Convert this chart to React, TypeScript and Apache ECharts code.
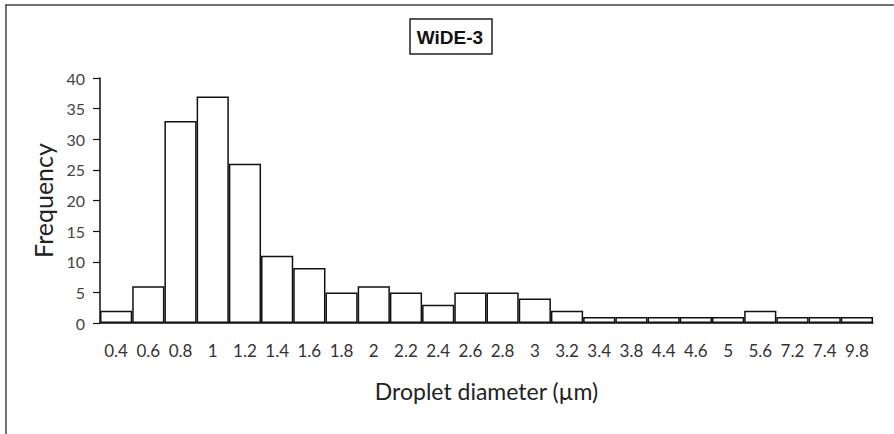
import React, { useEffect, useRef } from "react";
import * as echarts from "echarts";

const categories = ["0.4","0.6","0.8","1","1.2","1.4","1.6","1.8","2","2.2","2.4","2.6","2.8","3","3.2","3.4","3.8","4.4","4.6","5","5.6","7.2","7.4","9.8"];
const frequency = [2, 6, 33, 37, 26, 11, 9, 5, 6, 5, 3, 5, 5, 4, 2, 1, 1, 1, 1, 1, 2, 1, 1, 1];
const titleText = "WiDE-3";
const xName = "Droplet diameter (µm)";
const yName = "Frequency";

const FONT = "Lato, 'Open Sans', sans-serif";

export default function App() {
  const ref = useRef<HTMLDivElement>(null);
  useEffect(() => {
    if (!ref.current) return;
    const chart = echarts.init(ref.current, undefined, { renderer: "svg" });
    chart.setOption({
      animation: false,
      backgroundColor: "#ffffff",
      grid: { left: 100, right: 21, top: 78, bottom: 111 },
      graphic: [
        { type: "line", shape: { x1: 5, y1: 5, x2: 894, y2: 5 }, style: { stroke: "#444", lineWidth: 1.5 } },
        { type: "line", shape: { x1: 6, y1: 5, x2: 6, y2: 434 }, style: { stroke: "#444", lineWidth: 1.5 } },
        {
          type: "rect",
          shape: { x: 410, y: 19, width: 82, height: 35 },
          style: { fill: "#fff", stroke: "#222", lineWidth: 1.5 },
        },
        {
          type: "text",
          x: 450,
          y: 37,
          style: {
            text: titleText,
            font: "bold 19px 'Liberation Sans', Arial, sans-serif",
            fill: "#111",
            align: "center",
            verticalAlign: "middle",
          },
        },
      ],
      xAxis: {
        type: "category",
        data: categories,
        name: xName,
        nameLocation: "middle",
        nameGap: 56,
        nameTextStyle: { fontFamily: FONT, fontSize: 23, color: "#222" },
        axisLine: { lineStyle: { color: "#111", width: 1.5 } },
        axisTick: { show: false },
        axisLabel: { interval: 0, margin: 19, fontFamily: FONT, fontSize: 17, color: "#333" },
      },
      yAxis: {
        type: "value",
        min: 0,
        max: 40,
        interval: 5,
        name: yName,
        nameLocation: "middle",
        nameGap: 37,
        nameTextStyle: { fontFamily: FONT, fontSize: 25, color: "#222" },
        axisLine: { show: true, lineStyle: { color: "#111", width: 1.5 } },
        axisTick: { show: true, length: 7, lineStyle: { color: "#111", width: 1.2 } },
        splitLine: { show: false },
        axisLabel: { margin: 15, fontFamily: FONT, fontSize: 16, color: "#444" },
      },
      series: [
        {
          type: "bar",
          data: frequency,
          barCategoryGap: "0%",
          itemStyle: { color: "#ffffff", borderColor: "#111", borderWidth: 1.5 },
        },
      ],
    });
    return () => chart.dispose();
  }, []);
  return <div ref={ref} style={{ position: "fixed", left: 0, top: 0, width: 894, height: 434 }} />;
}
